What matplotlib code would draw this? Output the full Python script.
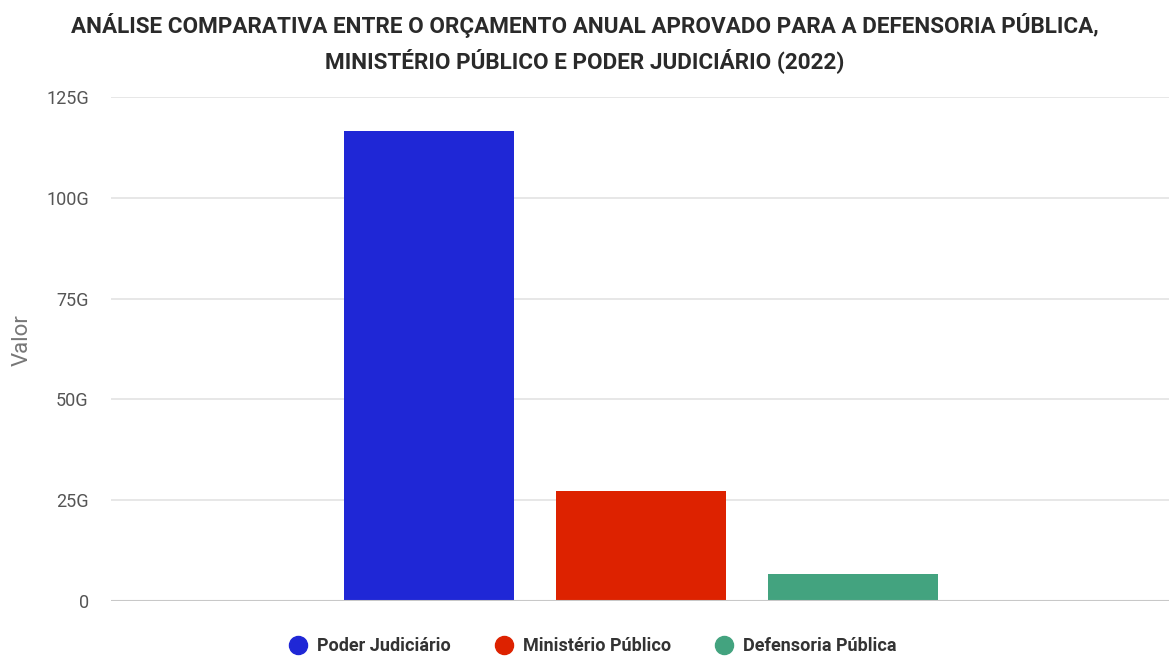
import matplotlib.pyplot as plt
from matplotlib.lines import Line2D

# orçamento anual aprovado, em bilhões de reais (G)
orgaos = ['Poder Judiciário', 'Ministério Público', 'Defensoria Pública']
valores = [116.6, 27.3, 6.6]
cores = ['#1f27d6', '#dd2200', '#43a37f']
posicoes = [1, 2, 3]
yticks = [0, 25, 50, 75, 100, 125]
ylabels = ['0', '25G', '50G', '75G', '100G', '125G']

fonte = 'Roboto'

fig = plt.figure(figsize=(11.69, 6.57), dpi=100)
ax = fig.add_axes([111 / 1169, 0.0852, 1060 / 1169, 0.7672])

ax.bar(posicoes, valores, width=0.8, color=cores, zorder=3)

ax.set_xlim(-0.5, 4.5)
ax.set_ylim(0, 125)
ax.set_xticks([])
ax.set_yticks(yticks)
ax.set_yticklabels(ylabels, family=fonte, fontsize=13, color='#555555')
ax.tick_params(axis='y', length=0, pad=16)
ax.grid(axis='y', color='#e3e3e3', linewidth=1.2, zorder=0)
for s in ax.spines.values():
    s.set_visible(False)
ax.axhline(0, color='#c8c8c8', linewidth=1.5, zorder=4)

fig.text(0.019, 0.4825, 'Valor', rotation=90, ha='center', va='center',
         fontsize=16, color='#777777', family=fonte)

fig.text(0.5, 0.961, 'ANÁLISE COMPARATIVA ENTRE O ORÇAMENTO ANUAL APROVADO PARA A DEFENSORIA PÚBLICA,',
         ha='center', va='center', fontsize=16.2, fontweight='bold', color='#2a2a2a', family=fonte)
fig.text(0.5, 0.908, 'MINISTÉRIO PÚBLICO E PODER JUDICIÁRIO (2022)',
         ha='center', va='center', fontsize=16.2, fontweight='bold', color='#2a2a2a', family=fonte)

handles = [Line2D([], [], marker='o', linestyle='none', markersize=13,
                  markerfacecolor=c, markeredgecolor=c) for c in cores]
fig.legend(handles, orgaos, loc='center', bbox_to_anchor=(0.503, 0.016),
           ncol=3, frameon=False, handletextpad=0.05, columnspacing=1.95,
           prop={'family': fonte, 'size': 13, 'weight': 'bold'}, labelcolor='#333333')

fig.savefig('out.png', dpi=100)
